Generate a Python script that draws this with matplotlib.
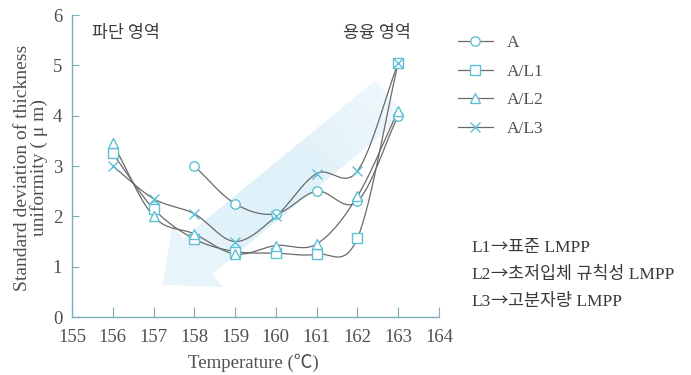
import numpy as np
import matplotlib
matplotlib.use("Agg")
import matplotlib.pyplot as plt
from matplotlib.lines import Line2D
from matplotlib.patches import Polygon

# 온도별 두께 균일도 표준편차 (μm)
temps = [156, 157, 158, 159, 160, 161, 162, 163]
a_vals = [np.nan, 2.2, 3.0, 2.25, 2.05, 2.5, 2.3, 4.0]
a_l1 = [3.25, 2.15, 1.55, 1.3, 1.27, 1.25, 1.57, 5.05]
a_l2 = [3.45, 2.0, 1.65, 1.25, 1.42, 1.45, 2.4, 4.1]
a_l3 = [3.0, 2.35, 2.05, 1.5, 2.0, 2.85, 2.9, 5.05]
a_line_start = 158  # A 곡선은 158℃부터 연결

series_names = ["A", "A/L1", "A/L2", "A/L3"]
series_markers = ["o", "s", "^", "x"]
notes = [("L1", "표준 LMPP"), ("L2", "초저입체 규칙성 LMPP"), ("L3", "고분자량 LMPP")]
region_labels = ["파단 영역", "용융 영역"]

MARK_C = "#5fc0d4"
LINE_C = "#6a6a6a"
AXIS_C = "#7eaebe"
TEXT_C = "#505050"
SERIF = ["Liberation Serif", "Noto Sans CJK KR"]
KR = ["Noto Sans CJK KR", "Liberation Serif"]


def catmull_rom(xs, ys, n=24):
    """점들을 지나는 부드러운 곡선"""
    p = np.column_stack([xs, ys]).astype(float)
    p = np.vstack([2 * p[0] - p[1], p, 2 * p[-1] - p[-2]])
    out = []
    t = np.linspace(0, 1, n)[:, None]
    for i in range(1, len(p) - 2):
        p0, p1, p2, p3 = p[i - 1], p[i], p[i + 1], p[i + 2]
        seg = 0.5 * ((2 * p1) + (-p0 + p2) * t
                     + (2 * p0 - 5 * p1 + 4 * p2 - p3) * t ** 2
                     + (-p0 + 3 * p1 - 3 * p2 + p3) * t ** 3)
        out.append(seg if i == 1 else seg[1:])
    out = np.vstack(out)
    return out[:, 0], out[:, 1]


def draw_arrow(ax, tail, tip, half_w=23, head_len=45, head_w=40):
    """배경의 옅은 화살표 (그라데이션)"""
    tf = ax.transData
    T, P = tf.transform([tail, tip])
    u = (P - T) / np.linalg.norm(P - T)
    nrm = np.array([u[1], -u[0]])
    B = P - head_len * u
    pts = [T + half_w * nrm, B + half_w * nrm, B + head_w * nrm, P,
           B - head_w * nrm, B - half_w * nrm, T - half_w * nrm]
    pts_data = tf.inverted().transform(pts)
    poly = Polygon(pts_data, closed=True, facecolor="none", edgecolor="none")
    ax.add_patch(poly)

    gx, gy = np.meshgrid(np.linspace(155, 164, 300), np.linspace(0, 6, 200))
    disp = tf.transform(np.column_stack([gx.ravel(), gy.ravel()]))
    s = ((disp - T) @ u) / np.linalg.norm(P - T)
    s = s.reshape(gx.shape)
    alpha = np.clip(0.16 + 0.35 * s, 0, 0.3)
    alpha *= np.clip((1.1 - s) / 0.4, 0.75, 1.0)
    img = np.zeros(gx.shape + (4,))
    img[..., 0] = 150 / 255
    img[..., 1] = 208 / 255
    img[..., 2] = 235 / 255
    img[..., 3] = alpha
    im = ax.imshow(img, extent=(155, 164, 0, 6), origin="lower",
                   aspect="auto", zorder=1, interpolation="bilinear")
    im.set_clip_path(poly)


fig = plt.figure(figsize=(6.91, 3.75), dpi=100)
ax = fig.add_axes([72 / 691, 1 - 317 / 375, 367 / 691, 302 / 375])
ax.set_xlim(155, 164)
ax.set_ylim(0, 6)

draw_arrow(ax, (162.8, 4.35), (157.23, 0.64))

all_series = [a_vals, a_l1, a_l2, a_l3]
handles = []
for name, vals, mk in zip(series_names, all_series, series_markers):
    x = np.array(temps, dtype=float)
    y = np.array(vals, dtype=float)
    keep = ~np.isnan(y)
    if name == "A":
        line_keep = keep & (x >= a_line_start)
    else:
        line_keep = keep
    sx, sy = catmull_rom(x[line_keep], y[line_keep])
    ax.plot(sx, sy, color=LINE_C, lw=0.9, zorder=3)
    ms = 7.5 if mk == "^" else 6.8
    ax.plot(x[keep], y[keep], linestyle="none", marker=mk, ms=ms,
            mfc="white" if mk != "x" else MARK_C, mec=MARK_C, mew=1.0, zorder=4)
    handles.append(Line2D([], [], color=LINE_C, lw=0.9, marker=mk, ms=ms,
                          mfc="white", mec=MARK_C, mew=1.0))

for side in ["top", "right"]:
    ax.spines[side].set_visible(False)
for side in ["left", "bottom"]:
    ax.spines[side].set_color(AXIS_C)
    ax.spines[side].set_linewidth(1.0)

ax.set_xticks(range(155, 165))
ax.set_yticks(range(0, 7))
ax.tick_params(axis="x", direction="in", length=7, color=AXIS_C,
               labelcolor=TEXT_C, labelsize=13.5, pad=9)
ax.tick_params(axis="y", direction="in", length=5, color=AXIS_C,
               labelcolor=TEXT_C, labelsize=13.5, pad=7)
for lbl in ax.get_xticklabels() + ax.get_yticklabels():
    lbl.set_family(SERIF)

ax.text(155.5, 5.65, region_labels[0], family=KR, fontsize=12.5,
        color="#3c3c3c", ha="left", va="center")
ax.text(163.3, 5.65, region_labels[1], family=KR, fontsize=12.5,
        color="#3c3c3c", ha="right", va="center")

fig.text(31 / 691, 1 - 168 / 375,
         "Standard deviation of thickness\nuniformity ( μ m)",
         rotation=90, ha="center", va="center", multialignment="center",
         family=SERIF, fontsize=14, color=TEXT_C, linespacing=1.0)
fig.text(253 / 691, 1 - 363 / 375, "Temperature (℃)", ha="center",
         va="center", family=SERIF, fontsize=13.5, color=TEXT_C)

ax.legend(handles, series_names, loc="upper left",
          bbox_to_anchor=(458 / 691, 1 - 35 / 375),
          bbox_transform=fig.transFigure, frameon=False, borderpad=0,
          borderaxespad=0, handlelength=2.0, handletextpad=0.8,
          labelspacing=0.72, prop={"family": SERIF, "size": 12.5},
          labelcolor=TEXT_C)

# 주석: 라틴 문자는 세리프, 화살표와 한글은 CJK 글꼴
renderer = fig.canvas.get_renderer()
for i, (code, desc) in enumerate(notes):
    x = 471 / 691
    y = 1 - (248 + 27 * i) / 375
    for piece, fam in [(code, SERIF), ("→", KR), (desc, SERIF)]:
        t = fig.text(x, y, piece, ha="left", va="center", family=fam,
                     fontsize=12.5, color="#3a3a3a")
        x = t.get_window_extent(renderer).x1 / fig.bbox.width

fig.savefig("out.png", dpi=100)
plt.close(fig)
